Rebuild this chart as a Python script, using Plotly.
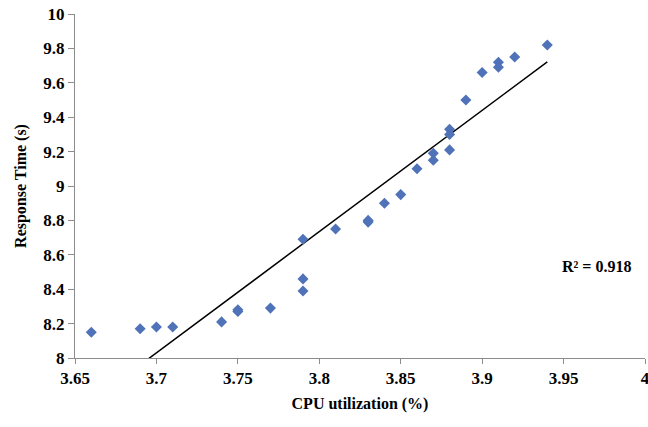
import numpy as np
import plotly.graph_objects as go

# CPU utilization (%) vs. response time (s)
cpu_util = [3.66, 3.69, 3.70, 3.71, 3.74, 3.75, 3.75, 3.77, 3.79, 3.79, 3.79,
            3.81, 3.83, 3.83, 3.84, 3.85, 3.86, 3.87, 3.87, 3.88, 3.88, 3.88,
            3.89, 3.90, 3.91, 3.91, 3.92, 3.94]
resp_time = [8.15, 8.17, 8.18, 8.18, 8.21, 8.27, 8.28, 8.29, 8.69, 8.46, 8.39,
             8.75, 8.79, 8.80, 8.90, 8.95, 9.10, 9.19, 9.15, 9.33, 9.30, 9.21,
             9.50, 9.66, 9.72, 9.69, 9.75, 9.82]
r2_label = "R² = 0.918"

x_ticks = [3.65, 3.7, 3.75, 3.8, 3.85, 3.9, 3.95, 4]
x_tick_text = ["3.65", "3.7", "3.75", "3.8", "3.85", "3.9", "3.95", "4"]
y_ticks = [8, 8.2, 8.4, 8.6, 8.8, 9, 9.2, 9.4, 9.6, 9.8, 10]
y_tick_text = ["8", "8.2", "8.4", "8.6", "8.8", "9", "9.2", "9.4", "9.6", "9.8", "10"]

# least-squares linear trendline over the data span
xa = np.array(cpu_util)
ya = np.array(resp_time)
slope, intercept = np.polyfit(xa, ya, 1)
trend_x = [xa.min(), xa.max()]
trend_y = [slope * v + intercept for v in trend_x]

font_family = "Liberation Serif"
axis_color = "#8c8c8c"
bold16 = dict(family=font_family, size=16, color="black", weight="bold")
tick_font = dict(family=font_family, size=17, color="black", weight="bold")

fig = go.Figure()
fig.add_trace(go.Scatter(
    x=trend_x, y=trend_y, mode="lines",
    line=dict(color="black", width=1.5),
    showlegend=False, hoverinfo="skip",
))
fig.add_trace(go.Scatter(
    x=cpu_util, y=resp_time, mode="markers",
    marker=dict(symbol="diamond", size=8.5, color="#4f72b8"),
    showlegend=False,
))

fig.add_annotation(
    x=3.97, y=8.53, xref="x", yref="y", text=r2_label,
    showarrow=False, font=bold16,
)

fig.update_layout(
    width=648, height=427,
    template="none",
    paper_bgcolor="white", plot_bgcolor="white",
    margin=dict(l=75, r=2.5, t=13.5, b=69),
    font=dict(family=font_family, size=16, color="black"),
    xaxis=dict(
        range=[3.65, 4], tickvals=x_ticks, ticktext=["<b>%s</b>" % t for t in x_tick_text],
        tickfont=tick_font, ticklabeloverflow="allow",
        showgrid=False, zeroline=False, showline=True, linecolor=axis_color, linewidth=1,
        ticks="outside", ticklen=5, tickcolor=axis_color, automargin=False,
        title=dict(text="CPU utilization (%)", font=bold16, standoff=10),
    ),
    yaxis=dict(
        range=[8, 10], tickvals=y_ticks, ticktext=["<b>%s</b>" % t for t in y_tick_text],
        tickfont=tick_font,
        showgrid=False, zeroline=False, showline=True, linecolor=axis_color, linewidth=1,
        ticks="outside", ticklen=6, tickcolor=axis_color, automargin=False,
        title=dict(text="Response Time (s)", font=bold16, standoff=12),
    ),
)

fig.write_html("out.html")
